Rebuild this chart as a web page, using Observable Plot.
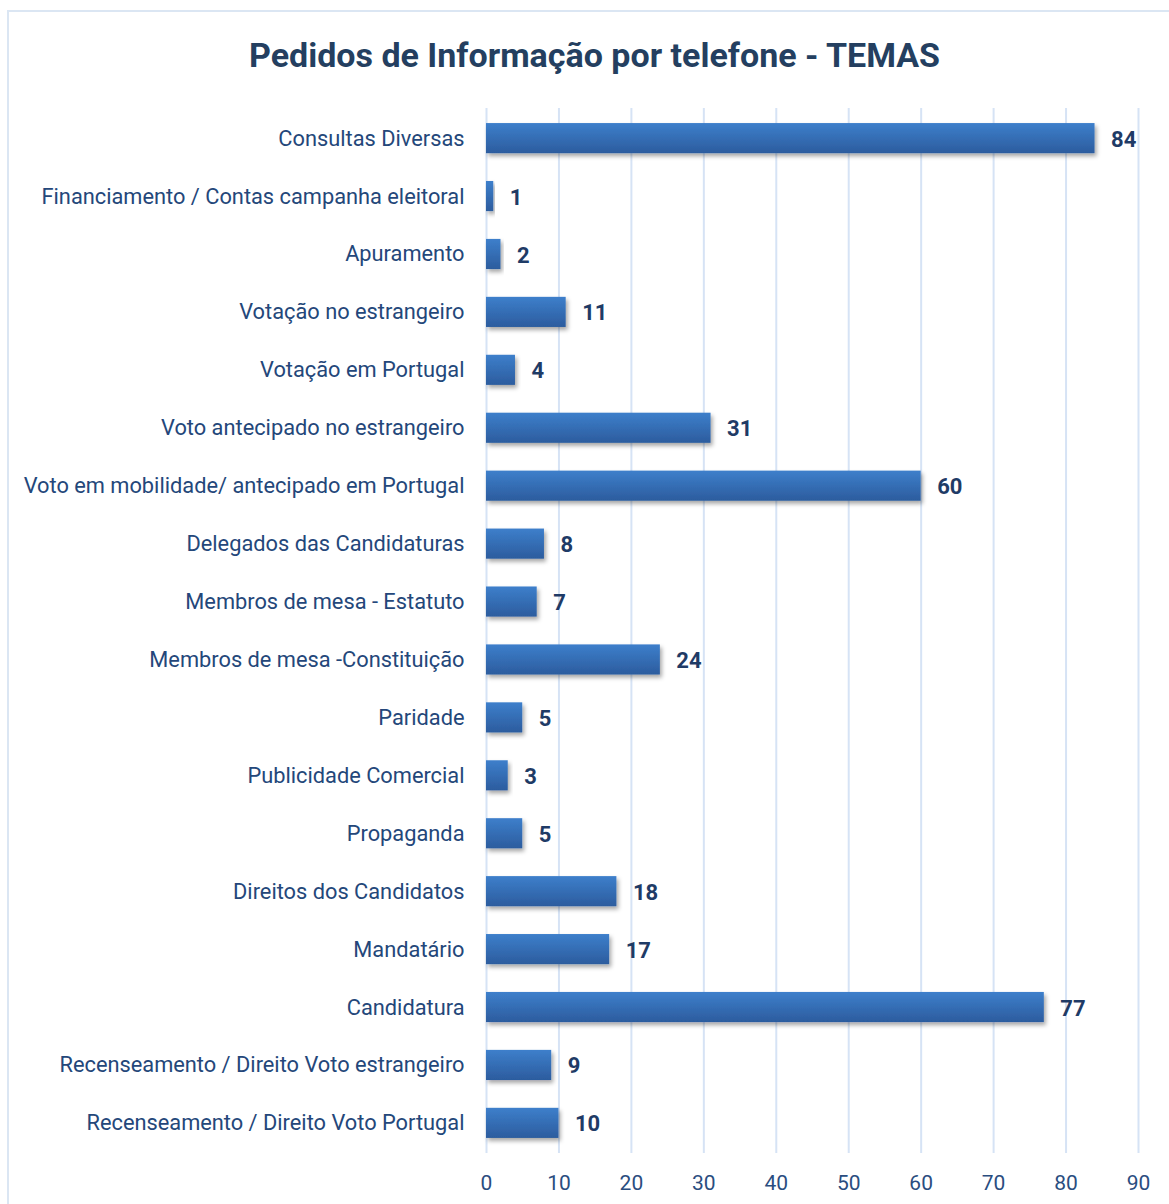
<!DOCTYPE html>
<html>
<head>
<meta charset="utf-8">
<script src="https://cdn.jsdelivr.net/npm/d3@7"></script>
<script src="https://cdn.jsdelivr.net/npm/@observablehq/plot@0.6"></script>
<style>
  html, body { margin: 0; padding: 0; background: #fff; }
  body { width: 1169px; height: 1204px; position: relative; overflow: hidden; font-family: Roboto, "Noto Sans", sans-serif; }
  #frame { position: absolute; left: 7px; top: 10px; width: 1170px; height: 1200px; border: 2px solid #dbe6f3; box-sizing: border-box; }
  #title { position: absolute; left: 0; top: 35px; width: 1189px; text-align: center; font-size: 34px; font-weight: 700; color: #243f60; }
  #chart { position: absolute; left: 0; top: 90px; }
</style>
</head>
<body>
<div id="frame"></div>
<div id="title">Pedidos de Informação por telefone - TEMAS</div>
<div id="chart"></div>
<script>
const categories = [
  "Consultas Diversas",
  "Financiamento / Contas campanha eleitoral",
  "Apuramento",
  "Votação no estrangeiro",
  "Votação em Portugal",
  "Voto antecipado no estrangeiro",
  "Voto em mobilidade/ antecipado em Portugal",
  "Delegados das Candidaturas",
  "Membros de mesa - Estatuto",
  "Membros de mesa -Constituição",
  "Paridade",
  "Publicidade Comercial",
  "Propaganda",
  "Direitos dos Candidatos",
  "Mandatário",
  "Candidatura",
  "Recenseamento / Direito Voto estrangeiro",
  "Recenseamento / Direito Voto Portugal"
];
const values = [84, 1, 2, 11, 4, 31, 60, 8, 7, 24, 5, 3, 5, 18, 17, 77, 9, 10];
const xTicks = [0, 10, 20, 30, 40, 50, 60, 70, 80, 90];

const data = categories.map((c, i) => ({tema: c, n: values[i]}));

const plot = Plot.plot({
  width: 1169,
  height: 1114,
  marginLeft: 486,
  marginRight: 31,
  marginTop: 18,
  marginBottom: 51,
  style: {fontFamily: "Roboto, 'Noto Sans', sans-serif", background: "transparent"},
  x: {domain: [0, 90], ticks: xTicks, label: null},
  y: {domain: categories, label: null, paddingInner: 0.48, paddingOuter: 0.26, round: false},
  marks: [
    Plot.ruleX(xTicks, {stroke: "#d6e3f5", strokeWidth: 2}),
    Plot.barX(data, {y: "tema", x: "n", fill: "url(#barGrad)"}),
    Plot.text(data, {y: "tema", x: "n", text: d => String(d.n), dx: 16, dy: 1, textAnchor: "start", fill: "#1f3b66", fontWeight: 700, fontSize: 22}),
    Plot.axisX({ticks: xTicks, tickSize: 0, tickPadding: 22, fontSize: 21, color: "#2a4d7f", anchor: "bottom"}),
    Plot.axisY({tickSize: 0, tickPadding: 22, fontSize: 21.8, color: "#24477a", anchor: "left"})
  ]
});

const svg = d3.select(plot);
const defs = svg.insert("defs", ":first-child");
const g = defs.append("linearGradient").attr("id", "barGrad").attr("x1", 0).attr("y1", 0).attr("x2", 0).attr("y2", 1);
g.append("stop").attr("offset", "0%").attr("stop-color", "#3d7fcb");
g.append("stop").attr("offset", "100%").attr("stop-color", "#2c5c9e");
const f = defs.append("filter").attr("id", "shadow").attr("x", "-10%").attr("y", "-30%").attr("width", "130%").attr("height", "180%");
f.append("feDropShadow").attr("dx", 2).attr("dy", 3).attr("stdDeviation", 2.2).attr("flood-color", "#000").attr("flood-opacity", 0.35);
svg.selectAll("rect").filter(function() { return this.getAttribute("fill") === "url(#barGrad)" || (this.parentNode && this.parentNode.getAttribute("fill") === "url(#barGrad)"); })
  .attr("filter", "url(#shadow)");

document.getElementById("chart").appendChild(plot);
</script>
</body>
</html>
